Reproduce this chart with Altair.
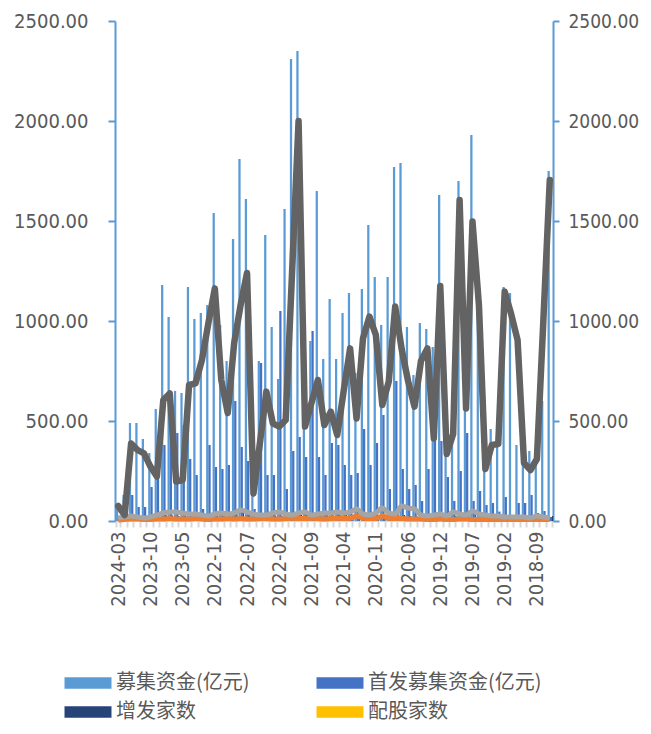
import altair as alt
import pandas as pd

months = [
    "2024-03", "2024-02", "2024-01", "2023-12", "2023-11", "2023-10", "2023-09", "2023-08",
    "2023-07", "2023-06", "2023-05", "2023-04", "2023-03", "2023-02", "2023-01", "2022-12",
    "2022-11", "2022-10", "2022-09", "2022-08", "2022-07", "2022-06", "2022-05", "2022-04",
    "2022-03", "2022-02", "2022-01", "2021-12", "2021-11", "2021-10", "2021-09", "2021-08",
    "2021-07", "2021-06", "2021-05", "2021-04", "2021-03", "2021-02", "2021-01", "2020-12",
    "2020-11", "2020-10", "2020-09", "2020-08", "2020-07", "2020-06", "2020-05", "2020-04",
    "2020-03", "2020-02", "2019-12", "2019-11", "2019-10", "2019-09", "2019-08", "2019-07",
    "2019-06", "2019-05", "2019-04", "2019-03", "2019-02", "2019-01", "2018-12", "2018-11",
    "2018-10", "2018-09", "2018-08", "2018-07",
]

tick_labels = [
    "2024-03", "2023-10", "2023-05", "2022-12", "2022-07", "2022-02", "2021-09",
    "2021-04", "2020-11", "2020-06", "2019-12", "2019-07", "2019-02", "2018-09",
]

# 募集资金(亿元)
raise_total = [
    60, 130, 490, 490, 410, 340, 560, 1180, 1020, 650, 640, 1170, 1010, 1040, 1080, 1540,
    980, 800, 1410, 1810, 1610, 150, 800, 1430, 970, 710, 1560, 2310, 2350, 500, 900, 1650,
    810, 1110, 810, 1040, 1140, 740, 1160, 1480, 1220, 980, 1220, 1770, 1790, 970, 730, 990,
    960, 870, 1630, 470, 420, 1700, 560, 1930, 1080, 460, 460, 480, 1170, 1140, 380, 300,
    350, 280, 600, 1750,
]
# 首发募集资金(亿元)
ipo_raise = [
    15, 110, 130, 70, 70, 170, 300, 380, 460, 440, 480, 310, 230, 60, 380, 270,
    260, 280, 600, 370, 300, 60, 790, 230, 230, 1050, 160, 350, 420, 320, 950, 320,
    230, 390, 380, 280, 230, 240, 460, 280, 390, 530, 160, 700, 260, 160, 180, 100,
    260, 400, 400, 220, 100, 250, 440, 100, 150, 80, 90, 47, 120, 30, 90, 90,
    130, 40, 50, 20,
]
# 增发家数
seo_count = [
    5, 10, 25, 20, 18, 15, 22, 30, 28, 25, 30, 35, 30, 20, 25, 35,
    30, 25, 35, 40, 30, 15, 25, 30, 28, 25, 30, 35, 40, 30, 25, 35,
    30, 28, 30, 35, 30, 25, 40, 35, 30, 28, 30, 35, 30, 25, 22, 28,
    30, 20, 40, 30, 25, 35, 30, 40, 30, 25, 20, 22, 30, 25, 20, 18,
    20, 15, 18, 25,
]
# 配股家数
rights_count = [
    0, 0, 1, 1, 0, 1, 0, 1, 1, 0, 1, 2, 1, 0, 1, 2,
    1, 0, 1, 2, 1, 0, 1, 1, 2, 1, 0, 2, 1, 1, 2, 1,
    0, 1, 1, 2, 1, 1, 2, 1, 2, 1, 2, 1, 1, 0, 1, 2,
    1, 0, 2, 1, 1, 2, 1, 1, 2, 1, 1, 0, 1, 2, 1, 1,
    0, 1, 1, 2,
]
# dark grey line (secondary axis)
line_dark = [
    75, 30, 388, 355, 338, 272, 222, 605, 638, 197, 205, 680, 688, 805, 990, 1163,
    705, 540, 890, 1080, 1240, 138, 390, 647, 488, 472, 505, 1250, 2000, 472, 590, 705,
    480, 547, 430, 650, 863, 513, 913, 1022, 930, 580, 697, 1072, 860, 700, 572, 800,
    863, 413, 1175, 335, 435, 1605, 563, 1497, 1080, 260, 380, 385, 1147, 1035, 905, 290,
    255, 310, 1000, 1705,
]
# light grey line (secondary axis)
line_gray = [
    15, 20, 25, 20, 15, 20, 30, 40, 45, 45, 40, 35, 35, 30, 25, 35,
    40, 35, 40, 55, 45, 35, 30, 30, 40, 45, 35, 30, 40, 45, 30, 35,
    40, 40, 45, 40, 45, 60, 35, 30, 40, 65, 40, 35, 75, 65, 60, 30,
    25, 30, 35, 25, 45, 35, 30, 50, 35, 30, 25, 25, 20, 20, 20, 20,
    15, 25, 20, 15,
]
# orange line (secondary axis)
line_orange = [
    5, 8, 10, 10, 8, 8, 10, 10, 12, 10, 10, 10, 12, 10, 8, 10,
    10, 12, 10, 12, 10, 10, 12, 12, 10, 10, 12, 14, 12, 12, 14, 12,
    10, 12, 14, 12, 14, 25, 14, 12, 12, 25, 14, 12, 12, 10, 10, 10,
    8, 8, 10, 8, 8, 10, 10, 8, 8, 8, 8, 8, 8, 8, 8, 8,
    8, 8, 8, 8,
]

series = ["募集资金(亿元)", "首发募集资金(亿元)", "增发家数", "配股家数"]
colors = ["#5B9BD5", "#4472C4", "#264478", "#FFC000"]

df = pd.DataFrame({
    "month": months,
    series[0]: raise_total,
    series[1]: ipo_raise,
    series[2]: seo_count,
    series[3]: rights_count,
    "dark": line_dark,
    "lgray": line_gray,
    "orange": line_orange,
})

NUM_FONT = "DejaVu Sans Condensed, DejaVu Sans"
CJK_FONT = "Noto Sans CJK SC"
TXT = "#595959"
AX = "#5B9BD5"

label_expr = "indexof([" + ",".join("'" + m + "'" for m in tick_labels) + "], datum.value) >= 0 ? datum.value : ''"

x_enc = alt.X(
    "month:N",
    sort=months,
    scale=alt.Scale(paddingInner=0.3, paddingOuter=0.15),
    axis=alt.Axis(
        title=None, labelAngle=-90, labelAlign="right", labelBaseline="middle",
        labelExpr=label_expr, labelOverlap=False, tickBand="extent",
        tickColor="#D9D9D9", tickSize=6, tickWidth=2, domainColor="#D9D9D9",
        domainWidth=1, labelFont=NUM_FONT, labelFontSize=20, labelColor=TXT,
        labelPadding=4,
    ),
)

ticks = [0, 500, 1000, 1500, 2000, 2500]
y_scale = alt.Scale(domain=[0, 2500], nice=False, zero=True)


def y_axis(orient):
    return alt.Axis(
        orient=orient, values=ticks, format=".2f", title=None, grid=False,
        domainColor=AX, domainWidth=2, tickColor=AX, tickWidth=2,
        tickSize=7 if orient == "left" else 6,
        labelFont=NUM_FONT, labelFontSize=20 if orient == "left" else 19,
        labelColor=TXT,
        labelPadding=20 if orient == "left" else 9,
    )


color_enc = alt.Color(
    "series:N",
    scale=alt.Scale(domain=series, range=colors),
    legend=alt.Legend(
        title=None, orient="none", legendX=-39, legendY=650, direction="horizontal",
        columns=2, columnPadding=66, rowPadding=7, padding=0,
        symbolType="M-2,-0.5H2V0.5H-2Z", symbolSize=552, symbolStrokeWidth=0,
        symbolOpacity=1, labelOffset=16, labelFont=CJK_FONT, labelFontSize=20,
        labelColor=TXT, labelLimit=400,
    ),
)

base = alt.Chart(df)

bars_main = base.transform_fold(
    [series[0], series[1]], as_=["series", "value"]
).mark_bar().encode(
    x=x_enc,
    xOffset=alt.XOffset("series:N", sort=[series[0], series[1]]),
    y=alt.Y("value:Q", scale=y_scale, axis=y_axis("left")),
    color=color_enc,
)

bars_navy = base.transform_fold(
    [series[2]], as_=["series", "value"]
).mark_bar(width=1.2, xOffset=2.8).encode(
    x=x_enc,
    y=alt.Y("value:Q", scale=y_scale, axis=y_axis("left")),
    color=color_enc,
)

bars_yellow = base.transform_fold(
    [series[3]], as_=["series", "value"]
).mark_bar(width=1.2, xOffset=-2.8).encode(
    x=x_enc,
    y=alt.Y("value:Q", scale=y_scale, axis=y_axis("left")),
    color=color_enc,
)

left = alt.layer(bars_main, bars_navy, bars_yellow)

line_orange_l = base.mark_line(color="#ED7D31", strokeWidth=5, interpolate="monotone").encode(
    x=x_enc, y=alt.Y("orange:Q", scale=y_scale, axis=y_axis("right"))
)
line_gray_l = base.mark_line(color="#A5A5A5", strokeWidth=5, interpolate="monotone").encode(
    x=x_enc, y=alt.Y("lgray:Q", scale=y_scale, axis=y_axis("right"))
)
line_dark_l = base.mark_line(color="#636363", strokeWidth=6.5, strokeJoin="round", strokeCap="round").encode(
    x=x_enc, y=alt.Y("dark:Q", scale=y_scale, axis=y_axis("right"))
)

right = alt.layer(line_orange_l, line_gray_l, line_dark_l)

chart = alt.layer(left, right).resolve_scale(y="independent").properties(
    width=438, height=500,
    autosize=alt.AutoSizeParams(type="none"),
    padding={"left": 107, "top": 13, "right": 90, "bottom": 205},
).configure_view(stroke=None)

chart.save("out.html", embed_options={"renderer": "svg", "actions": False})
